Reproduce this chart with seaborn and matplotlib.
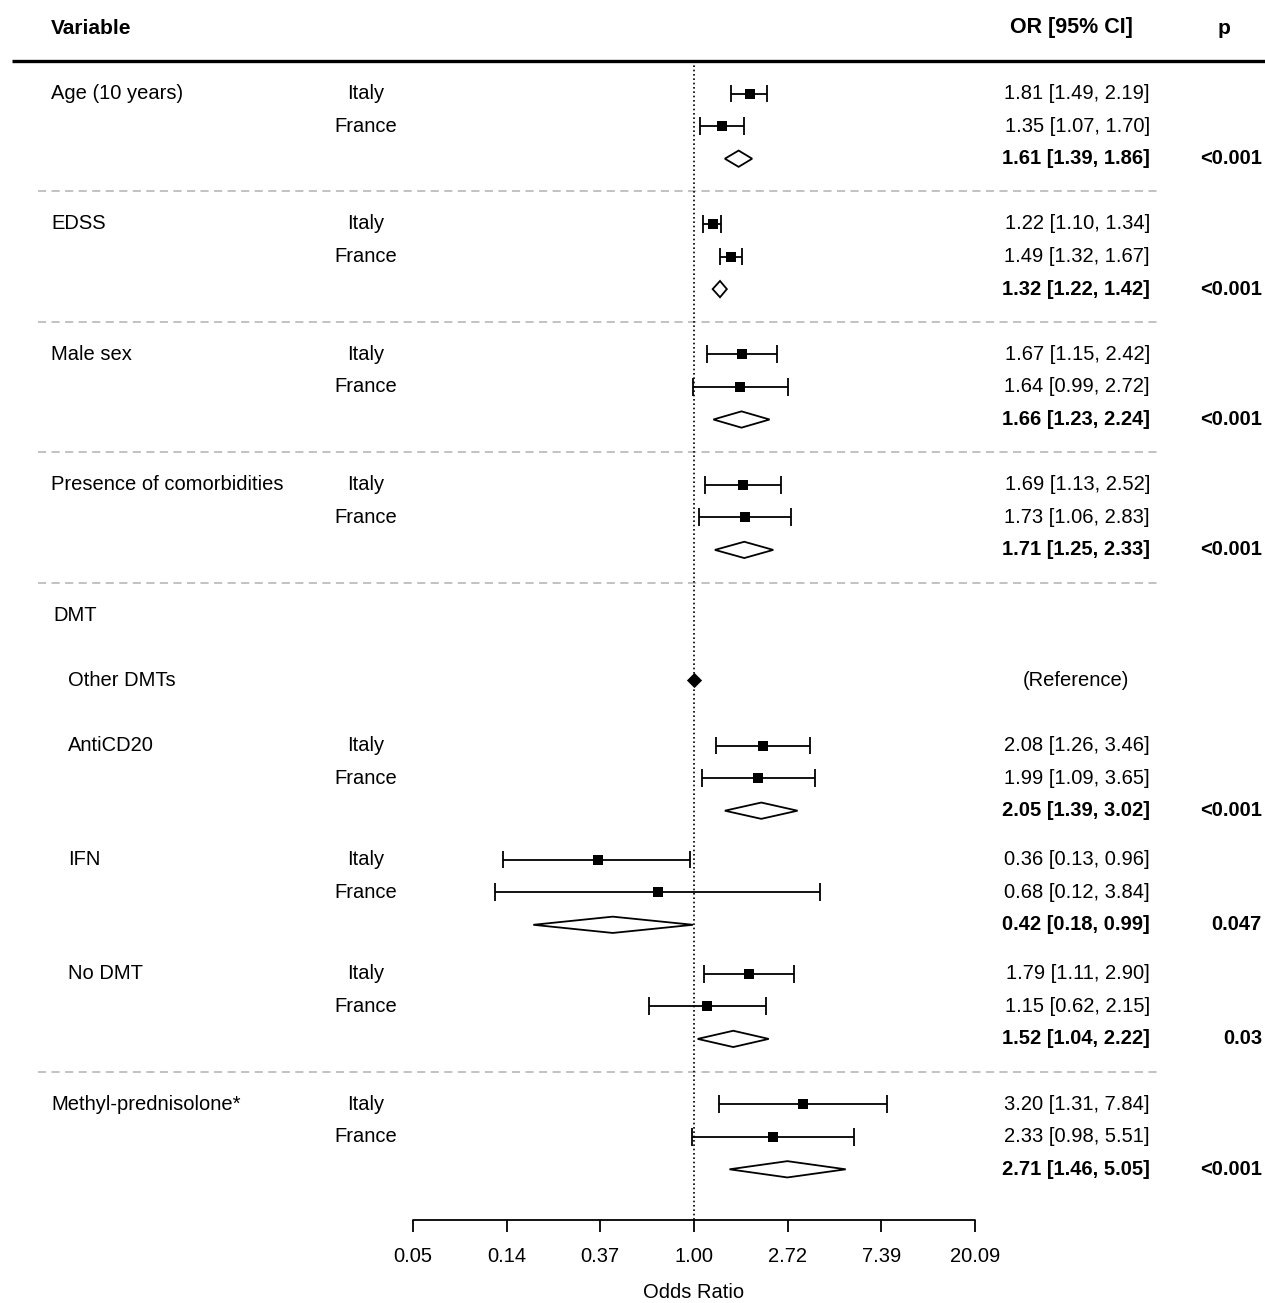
import numpy as np
import matplotlib
matplotlib.use("Agg")
import matplotlib.pyplot as plt
from matplotlib.patches import Polygon
import seaborn as sns

# data
variables = ["Age (10 years)", "EDSS", "Male sex", "Presence of comorbidities",
             "AntiCD20", "IFN", "No DMT", "Methyl-prednisolone*"]
is_dmt = [False, False, False, False, True, True, True, False]
italy_or = [1.81, 1.22, 1.67, 1.69, 2.08, 0.36, 1.79, 3.20]
italy_lo = [1.49, 1.10, 1.15, 1.13, 1.26, 0.13, 1.11, 1.31]
italy_hi = [2.19, 1.34, 2.42, 2.52, 3.46, 0.96, 2.90, 7.84]
france_or = [1.35, 1.49, 1.64, 1.73, 1.99, 0.68, 1.15, 2.33]
france_lo = [1.07, 1.32, 0.99, 1.06, 1.09, 0.12, 0.62, 0.98]
france_hi = [1.70, 1.67, 2.72, 2.83, 3.65, 3.84, 2.15, 5.51]
pooled_or = [1.61, 1.32, 1.66, 1.71, 2.05, 0.42, 1.52, 2.71]
pooled_lo = [1.39, 1.22, 1.23, 1.25, 1.39, 0.18, 1.04, 1.46]
pooled_hi = [1.86, 1.42, 2.24, 2.33, 3.02, 0.99, 2.22, 5.05]
p_values = ["<0.001", "<0.001", "<0.001", "<0.001", "<0.001", "0.047", "0.03", "<0.001"]
countries = ["Italy", "France"]
tick_exp = [-3, -2, -1, 0, 1, 2, 3]

# layout (row units, top row of every block)
block_rows = [0, 4, 8, 12, 20, 23.5, 27, 31]
sep_rows = [3, 7, 11, 15, 30]
dmt_row, ref_row = 16, 18

sns.set_theme(style="white")
plt.rcParams['font.family'] = ['Liberation Sans', 'DejaVu Sans']
plt.rcParams['text.color'] = 'black'
FS = 14.5
LW = 1.3

W, H = 1265, 1303
Y0, UNIT = 93.5, 32.6


def px(x):
    return x / W


def py(y):
    return (y - Y0) / UNIT


fig = plt.figure(figsize=(W / 100, H / 100), dpi=100)
ax = fig.add_axes([0, 0, 1, 1])
ax.set_xscale("log")
ax.set_xlim(np.exp(-694 / 93.7), np.exp((W - 694) / 93.7))
ax.set_ylim(py(H), py(0))
ax.axis("off")
tr = ax.get_yaxis_transform()  # x in axes fraction, y in data

# header (shared baseline)
hy = py(33.5)
ax.text(px(51), hy, "Variable", transform=tr, fontsize=15, weight="bold", va="baseline")
ax.text(px(1071), hy, "OR [95% CI]", transform=tr, fontsize=15.5, weight="bold", va="baseline", ha="center")
ax.text(px(1224), hy, "p", transform=tr, fontsize=15, weight="bold", va="baseline", ha="center")
ax.plot([px(12), 1], [py(61), py(61)], transform=tr, color="black", lw=2.4, solid_capstyle="butt")

for r in sep_rows:
    ax.plot([px(38), px(1162)], [r, r], transform=tr, color="#bdbdbd", lw=1.3,
            linestyle=(0, (4.5, 3)))

axis_y = py(1220)
ax.vlines(1, py(61), axis_y, color="black", lw=1.2, linestyle=(0, (1, 1.6)))

cap = 0.27
dh = 0.25
sq_y, sq_x = [], []
for i, var in enumerate(variables):
    r0 = block_rows[i]
    ax.text(px(68 if is_dmt[i] else 51), r0, var, transform=tr, fontsize=FS, va="center")
    est = [(italy_or[i], italy_lo[i], italy_hi[i]), (france_or[i], france_lo[i], france_hi[i])]
    for k, (o, lo, hi) in enumerate(est):
        y = r0 + k
        ax.text(px(366), y, countries[k], transform=tr, fontsize=FS, va="center", ha="center")
        ax.hlines(y, lo, hi, color="black", lw=LW)
        ax.vlines([lo, hi], y - cap, y + cap, color="black", lw=LW)
        sq_x.append(o)
        sq_y.append(y)
        ax.text(px(1150), y, f"{o:.2f} [{lo:.2f}, {hi:.2f}]", transform=tr, fontsize=FS,
                va="center", ha="right")
    y = r0 + 2
    o, lo, hi = pooled_or[i], pooled_lo[i], pooled_hi[i]
    ax.add_patch(Polygon([(lo, y), (o, y - dh), (hi, y), (o, y + dh)], closed=True,
                         facecolor="white", edgecolor="black", lw=LW, zorder=3))
    ax.text(px(1150), y, f"{o:.2f} [{lo:.2f}, {hi:.2f}]", transform=tr, fontsize=FS,
            va="center", ha="right", weight="bold")
    ax.text(px(1262), y, p_values[i], transform=tr, fontsize=FS, va="center", ha="right",
            weight="bold")

sns.scatterplot(x=sq_x, y=sq_y, marker="s", s=44, color="black", edgecolor="black",
                linewidth=0, ax=ax, zorder=4)

# DMT block header and reference category
ax.text(px(53), dmt_row, "DMT", transform=tr, fontsize=FS, va="center")
ax.text(px(68), ref_row, "Other DMTs", transform=tr, fontsize=FS, va="center")
sns.scatterplot(x=[1.0], y=[ref_row], marker="D", s=60, color="black", linewidth=0,
                ax=ax, zorder=4)
ax.text(px(1076), ref_row, "(Reference)", transform=tr, fontsize=FS, va="center", ha="center")

# x axis
ticks = np.exp(tick_exp)
ax.plot([ticks[0], ticks[-1]], [axis_y, axis_y], color="black", lw=LW)
ax.vlines(ticks, axis_y, py(1232), color="black", lw=LW)
for t in ticks:
    ax.text(t, py(1257), f"{t:.2f}", fontsize=FS, ha="center", va="center")
ax.text(1.0, py(1293), "Odds Ratio", fontsize=FS, ha="center", va="center")

fig.savefig("out.png", dpi=100)
